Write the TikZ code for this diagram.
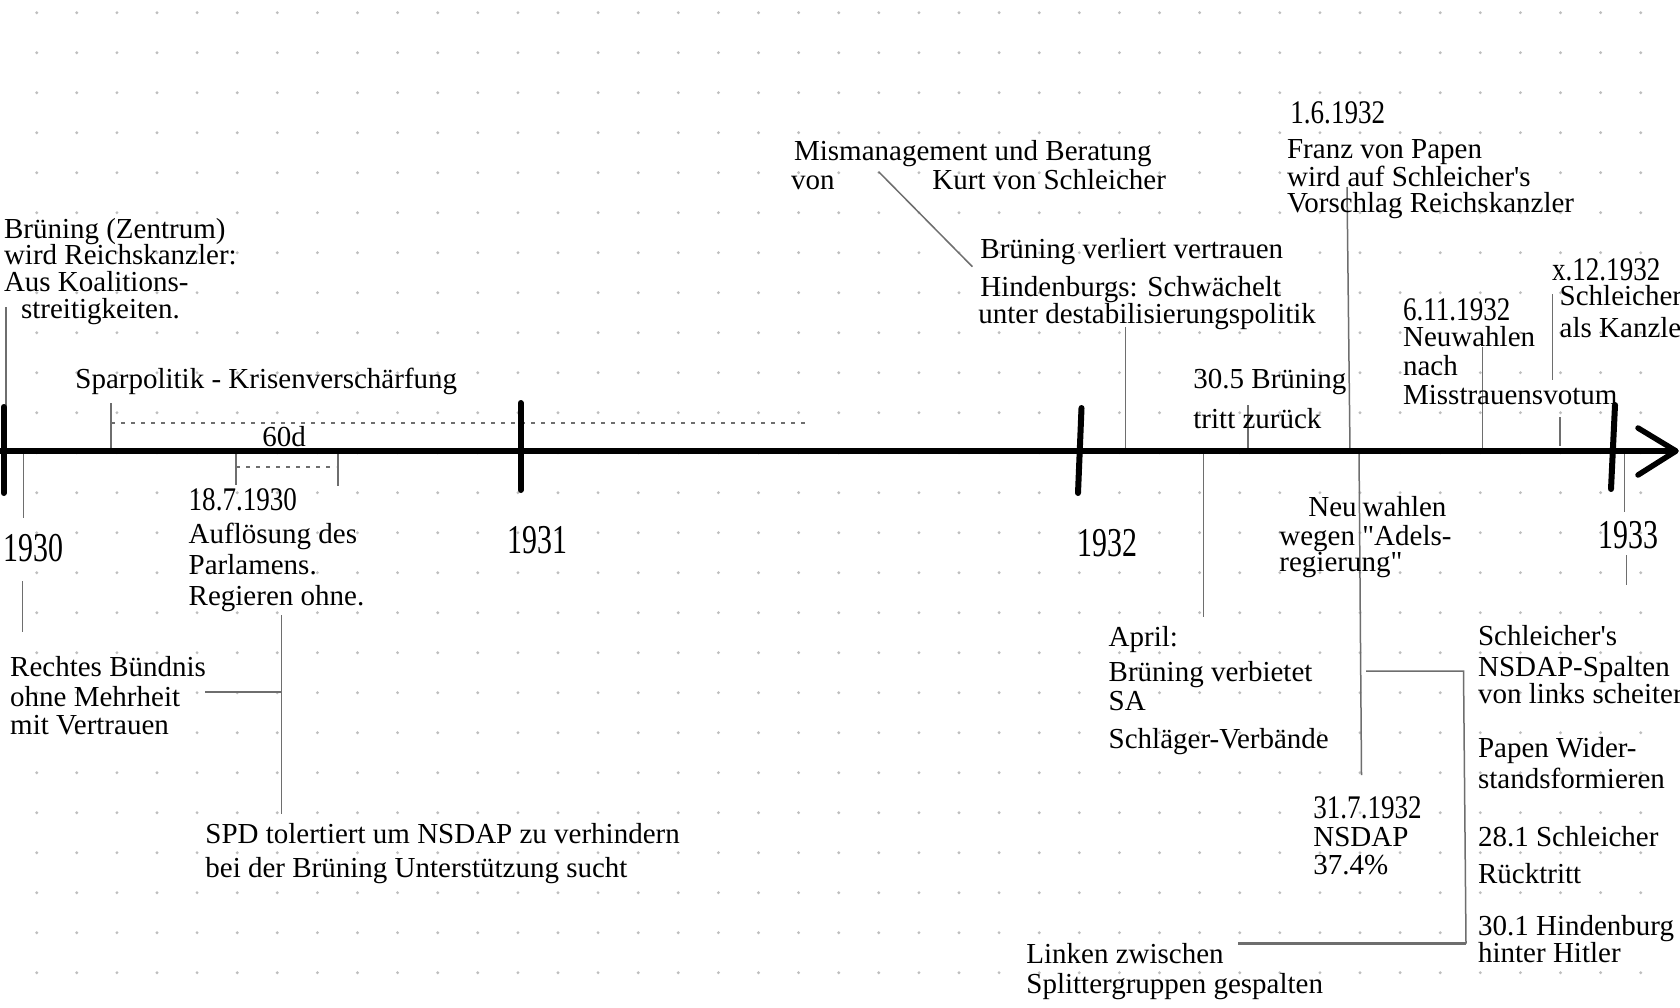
\documentclass[tikz,border=0pt]{standalone}
\usepackage{fontspec}
\setmainfont{Liberation Serif}[Ligatures=TeXOff]
\definecolor{dotgray}{HTML}{BEBEBE}
\definecolor{linegray}{HTML}{6E6E6E}
\newcommand{\datefmt}[1]{\scalebox{0.82}[1]{\fontsize{16.5pt}{16.5pt}\selectfont #1}}
\newcommand{\yearfmt}[1]{\scalebox{0.73}[1]{\fontsize{20.5pt}{20.5pt}\selectfont #1}}
\tikzset{
  txt/.style={anchor=base west, inner sep=0pt, font=\fontsize{14.5pt}{14.5pt}\selectfont},
  conn/.style={draw=linegray, line width=0.75pt},
  thickconn/.style={draw=linegray, line width=1.3pt},
  tickmark/.style={draw=black, line width=3pt, line cap=round},
  dotline/.style={draw=linegray, line width=0.7pt, dash pattern=on 2pt off 3pt},
}
\begin{document}
\begin{tikzpicture}[x=0.5pt,y=-0.5pt]
\clip (0,0) rectangle (1680,1007);
\fill[white] (0,0) rectangle (1680,1007);
% dot grid
\foreach \i in {0,...,40}{
  \foreach \j in {0,...,24}{
    \fill[dotgray] ({36.7+40.1*\i},{12.7+40*\j}) circle (0.8pt);
  }
}
% ---------- coordinates ----------
\coordinate (ax0) at (0,451);
\coordinate (ax1) at (1676,451);
\coordinate (arU) at (1638,428);
\coordinate (arD) at (1638,475);
% year ticks
\coordinate (t30a) at (3.6,407);   \coordinate (t30b) at (3.6,493);
\coordinate (t31a) at (520.7,403); \coordinate (t31b) at (520.7,490);
\coordinate (t32a) at (1081.5,408);\coordinate (t32b) at (1078,493);
\coordinate (t33a) at (1615,405);  \coordinate (t33b) at (1611,489);
% connectors
\coordinate (c1a) at (6,307);      \coordinate (c1b) at (6,420);
\coordinate (c2a) at (111,403);    \coordinate (c2b) at (111,451);
\coordinate (c3a) at (111,423);    \coordinate (c3b) at (808,423);
\coordinate (c4a) at (236,451);    \coordinate (c4b) at (236,485);
\coordinate (c5a) at (236,467);    \coordinate (c5b) at (336,467);
\coordinate (c6a) at (338,451);    \coordinate (c6b) at (338,486);
\coordinate (c7a) at (23.3,451);   \coordinate (c7b) at (23.3,518);
\coordinate (c8a) at (22.5,581);   \coordinate (c8b) at (22.5,632);
\coordinate (c9a) at (281.5,615);  \coordinate (c9b) at (281.5,814);
\coordinate (c10a) at (205,692);   \coordinate (c10b) at (281.5,692);
\coordinate (c11a) at (878.6,171.7); \coordinate (c11b) at (972.4,266.7);
\coordinate (c12a) at (1125.5,327);  \coordinate (c12b) at (1125.5,451);
\coordinate (c13a) at (1248,405);    \coordinate (c13b) at (1248,451);
\coordinate (c14a) at (1347,187);    \coordinate (c14b) at (1350,451);
\coordinate (c15a) at (1482.5,347);  \coordinate (c15b) at (1482.5,451);
\coordinate (c16a) at (1552.7,294);  \coordinate (c16b) at (1552.7,380);
\coordinate (c17a) at (1560,417);    \coordinate (c17b) at (1560,446);
\coordinate (c18a) at (1203.3,451);  \coordinate (c18b) at (1203.3,617);
\coordinate (c19a) at (1359,451);    \coordinate (c19b) at (1361.5,775);
\coordinate (c20a) at (1366,671);    \coordinate (c20b) at (1463.5,671);
\coordinate (c20c) at (1466,943.5);  \coordinate (c20d) at (1238,943.5);
\coordinate (c21a) at (1624.3,451);  \coordinate (c21b) at (1624.3,512);
\coordinate (c22a) at (1626.7,555);  \coordinate (c22b) at (1626.7,585);
% ---------- connectors ----------
\draw[conn] (c1a) -- (c1b);
\draw[conn] (c2a) -- (c2b);
\draw[dotline] (c3a) -- (c3b);
\draw[conn] (c4a) -- (c4b);
\draw[dotline] (c5a) -- (c5b);
\draw[conn] (c6a) -- (c6b);
\draw[conn] (c7a) -- (c7b);
\draw[conn] (c8a) -- (c8b);
\draw[conn] (c9a) -- (c9b);
\draw[conn] (c10a) -- (c10b);
\draw[conn] (c11a) -- (c11b);
\draw[conn] (c12a) -- (c12b);
\draw[conn] (c13a) -- (c13b);
\draw[conn] (c14a) -- (c14b);
\draw[conn] (c15a) -- (c15b);
\draw[conn] (c16a) -- (c16b);
\draw[conn] (c17a) -- (c17b);
\draw[conn] (c18a) -- (c18b);
\draw[conn] (c19a) -- (c19b);
\draw[conn] (c20a) -- (c20b) -- (c20c);
\draw[thickconn] (c20c) -- (c20d);
\draw[conn] (c21a) -- (c21b);
\draw[conn] (c22a) -- (c22b);
% ---------- axis ----------
\draw[black, line width=2.75pt] (ax0) -- (ax1);
\draw[black, line width=2.75pt, line cap=round, line join=round] (arU) -- (ax1) -- (arD);
\draw[tickmark] (t30a) -- (t30b);
\draw[tickmark] (t31a) -- (t31b);
\draw[tickmark] (t32a) -- (t32b);
\draw[tickmark] (t33a) -- (t33b);
% ---------- texts ----------
\node[txt] (A1) at (3.6,238) {Brüning (Zentrum)};
\node[txt] (A2) at (3.6,264.5) {wird Reichskanzler:};
\node[txt] (A3) at (3.6,291) {Aus Koalitions-};
\node[txt] (A4) at (20.7,318) {streitigkeiten.};
\node[txt] (B1) at (75,388) {Sparpolitik - Krisenverschärfung};
\node[txt] (d60) at (262,446.5) {60d};
\node[txt] (C0) at (188.3,510.5) {\datefmt{18.7.1930}};
\node[txt] (C1) at (188.3,543) {Auflösung des};
\node[txt] (C2) at (188.3,574) {Parlamens.};
\node[txt] (C3) at (188.3,605) {Regieren ohne.};
\node[txt] (D1) at (9.8,676) {Rechtes Bündnis};
\node[txt] (D2) at (9.8,706) {ohne Mehrheit};
\node[txt] (D3) at (9.8,734) {mit Vertrauen};
\node[txt] (E1) at (205,843) {SPD tolertiert um NSDAP zu verhindern};
\node[txt] (E2) at (205,877) {bei der Brüning Unterstützung sucht};
\node[txt] (Y30) at (3.3,561.7) {\yearfmt{1930}};
\node[txt] (Y31) at (507,553) {\yearfmt{1931}};
\node[txt] (Y32) at (1077,556) {\yearfmt{1932}};
\node[txt] (Y33) at (1598,548.3) {\yearfmt{1933}};
\node[txt] (F1) at (793.7,160) {Mismanagement und Beratung};
\node[txt] (F2) at (790.6,189) {von};
\node[txt] (F3) at (932,189) {Kurt von Schleicher};
\node[txt] (G1) at (980,258) {Brüning verliert vertrauen};
\node[txt] (G2) at (980,296.5) {Hindenburgs: Schwächelt};
\node[txt] (G3) at (978,323) {unter destabilisierungspolitik};
\node[txt] (H1) at (1193,388) {30.5 Brüning};
\node[txt] (H2) at (1193,428) {tritt zurück};
\node[txt] (I0) at (1290,123.3) {\datefmt{1.6.1932}};
\node[txt] (I1) at (1286.7,158) {Franz von Papen};
\node[txt] (I2) at (1286.7,186) {wird auf Schleicher's};
\node[txt] (I3) at (1286.7,212) {Vorschlag Reichskanzler};
\node[txt] (J0) at (1402.7,320) {\datefmt{6.11.1932}};
\node[txt] (J1) at (1402.7,346) {Neuwahlen};
\node[txt] (J2) at (1402.7,375) {nach};
\node[txt] (J3) at (1402.7,404) {Misstrauensvotum};
\node[txt] (K0) at (1551.7,280) {\datefmt{x.12.1932}};
\node[txt] (K1) at (1559.3,305.5) {Schleicher};
\node[txt] (K2) at (1559.3,337) {als Kanzler};
\node[txt] (M1) at (1308,516.5) {Neu\hspace{3pt}wahlen};
\node[txt] (M2) at (1279,545) {wegen "Adels-};
\node[txt] (M3) at (1279,571) {regierung"};
\node[txt] (N1) at (1108.3,646.5) {April:};
\node[txt] (N2) at (1108.3,681) {Brüning verbietet};
\node[txt] (N3) at (1108.3,710) {SA};
\node[txt] (N4) at (1108.3,748) {Schläger-Verbände};
\node[txt] (O0) at (1313,818) {\datefmt{31.7.1932}};
\node[txt] (O1) at (1313,846) {NSDAP};
\node[txt] (O2) at (1313,874) {37.4\%};
\node[txt] (P1) at (1026,963) {Linken zwischen};
\node[txt] (P2) at (1026,993) {Splittergruppen gespalten};
\node[txt] (Q1) at (1477.7,645) {Schleicher's};
\node[txt] (Q2) at (1477.7,676) {NSDAP-Spalten};
\node[txt] (Q3) at (1477.7,703) {von links scheitern};
\node[txt] (Q4) at (1477.7,757) {Papen Wider-};
\node[txt] (Q5) at (1477.7,788) {standsformieren};
\node[txt] (Q6) at (1477.7,846) {28.1 Schleicher};
\node[txt] (Q7) at (1477.7,883) {Rücktritt};
\node[txt] (Q8) at (1477.7,935) {30.1 Hindenburg};
\node[txt] (Q9) at (1477.7,962) {hinter Hitler};
\end{tikzpicture}
\end{document}
